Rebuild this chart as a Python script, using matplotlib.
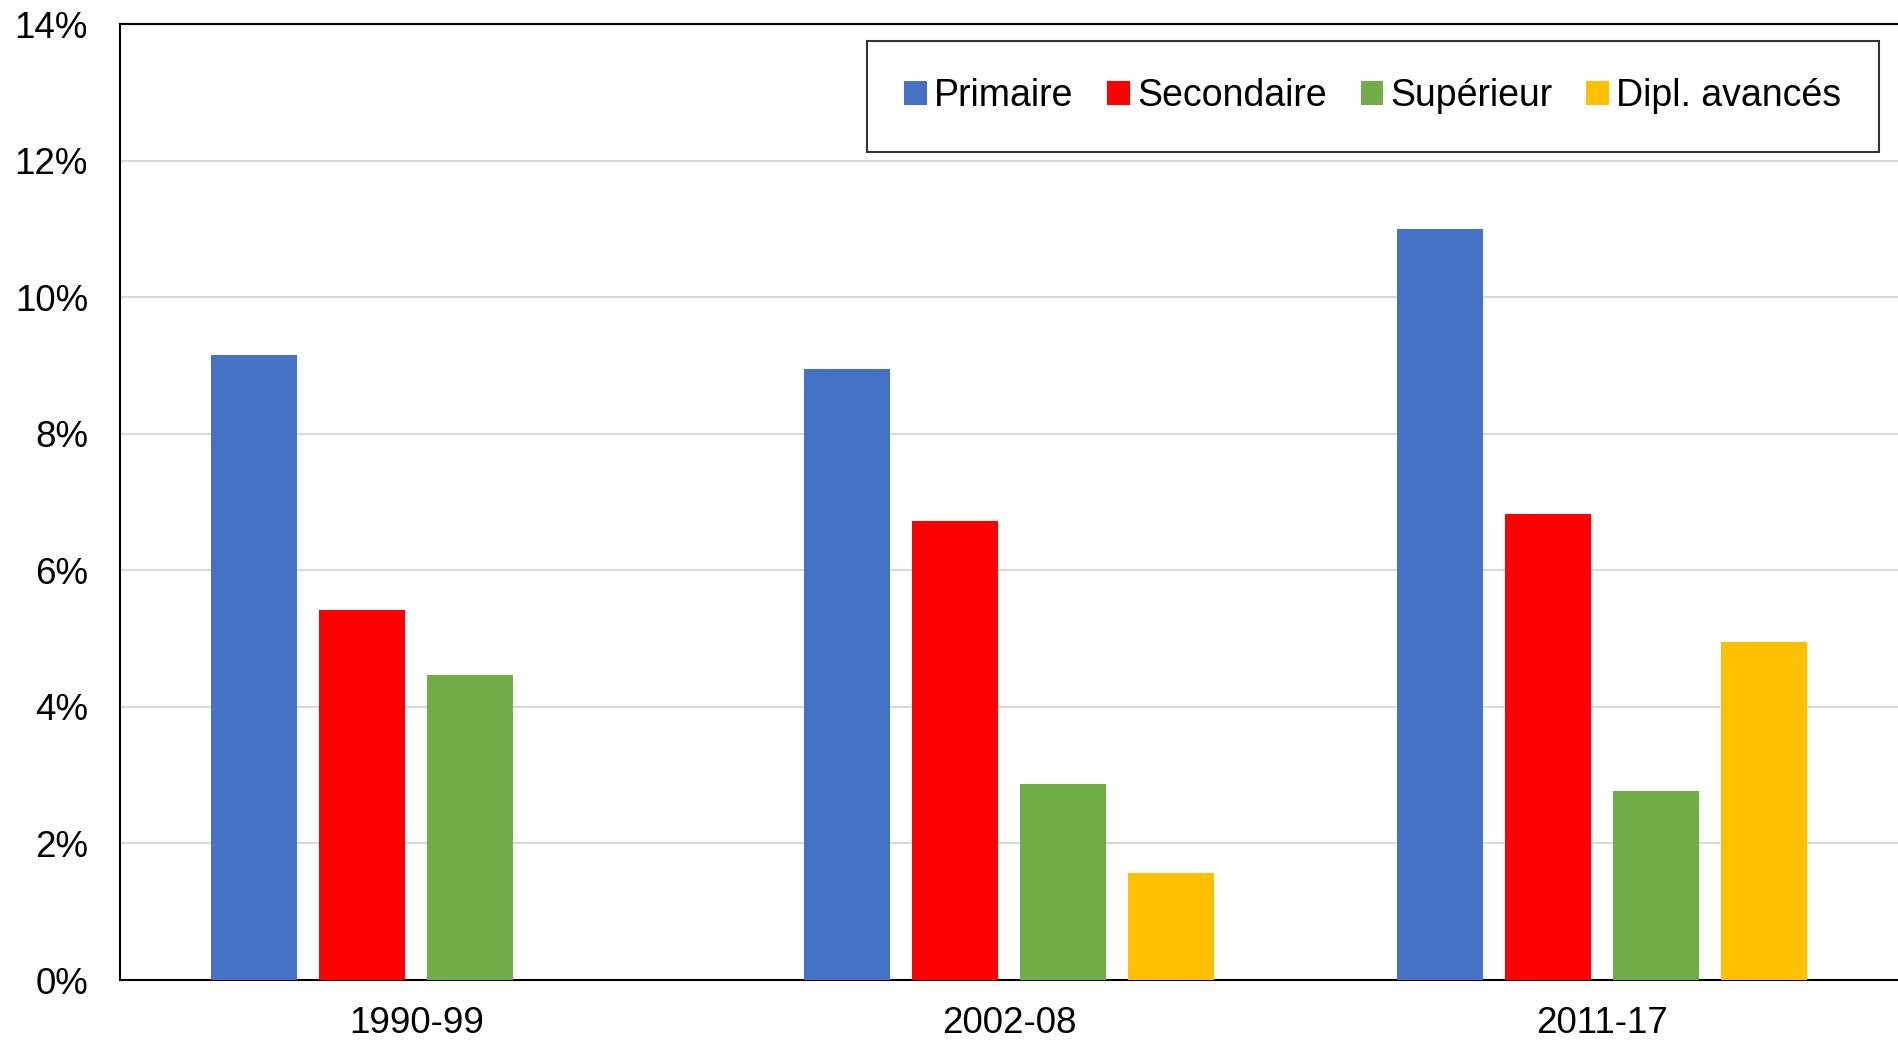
import matplotlib
matplotlib.use("Agg")
import matplotlib.pyplot as plt
import numpy as np
from matplotlib.ticker import FuncFormatter

periods = ["1990-99", "2002-08", "2011-17"]
series_names = ["Primaire", "Secondaire", "Supérieur", "Dipl. avancés"]
primaire = [9.15, 8.95, 11.0]
secondaire = [5.42, 6.72, 6.82]
superieur = [4.46, 2.87, 2.77]
dipl_avances = [np.nan, 1.56, 4.95]
colors = ["#4472C4", "#FF0000", "#70AD47", "#FFC000"]

plt.rcParams['font.family'] = ['Liberation Sans', 'DejaVu Sans']

fig = plt.figure(figsize=(18.98, 10.43), dpi=100)
ax = fig.add_axes([120/1898, (1043-980)/1043, (1898-120)/1898, 956/1043])

x = np.arange(len(periods))
step = 0.1822
width = 0.145
all_series = [primaire, secondaire, superieur, dipl_avances]
for i, (name, vals, c) in enumerate(zip(series_names, all_series, colors)):
    ax.bar(x + (i - 1.5) * step, vals, width=width, color=c, label=name, zorder=3)

ax.set_xlim(-0.5, 2.5)
ax.set_ylim(0, 14)
ax.set_yticks(np.arange(0, 15, 2))
ax.yaxis.set_major_formatter(FuncFormatter(lambda v, p: f"{v:.0f}%"))
ax.set_xticks(x)
ax.set_xticklabels(periods)
ax.tick_params(axis='both', length=0, labelsize=26.5, colors='black')
ax.tick_params(axis='y', pad=23)
ax.tick_params(axis='x', pad=19)
ax.grid(axis='y', color='#d9d9d9', linewidth=1.5, zorder=0)
ax.set_axisbelow(True)
for s in ['left', 'bottom', 'top']:
    ax.spines[s].set_color('black')
    ax.spines[s].set_linewidth(1.5)
ax.spines['right'].set_visible(False)

leg = ax.legend(loc='upper right', bbox_to_anchor=(1759/1778, 1 - 17/956), ncol=4,
                fontsize=27, frameon=True, fancybox=False, edgecolor='black',
                handlelength=0.6, handleheight=0.6, handletextpad=0.2,
                columnspacing=0.9, borderpad=1.0, borderaxespad=0)
leg.get_frame().set_linewidth(1.5)

fig.savefig("out.png", dpi=100)
